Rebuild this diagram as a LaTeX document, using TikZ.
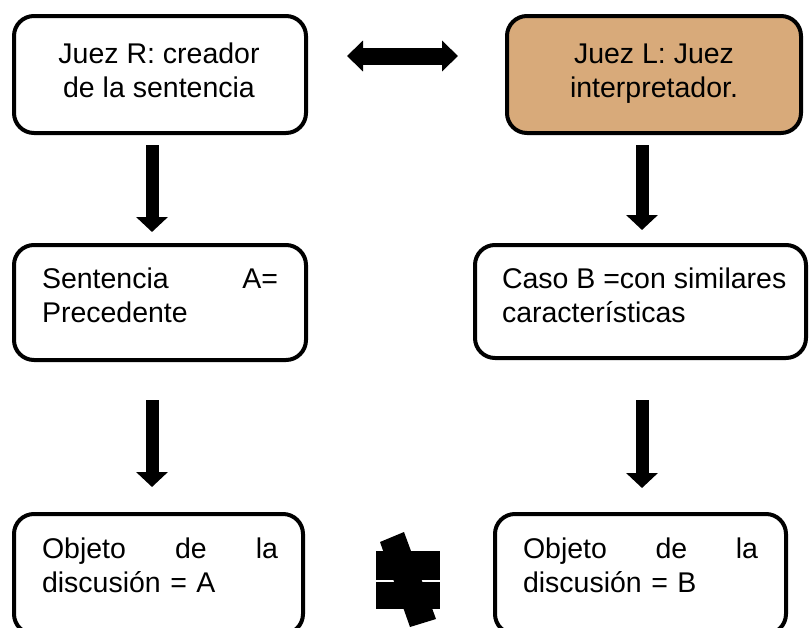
\documentclass[tikz,border=0pt]{standalone}
\usepackage{fontspec}
\setmainfont{Liberation Sans}
\usetikzlibrary{arrows.meta}
\definecolor{tanfill}{RGB}{216,170,122}
\begin{document}
\begin{tikzpicture}[x=1pt,y=-1pt,
  box/.style={draw=black,line width=4pt,rounded corners=20pt,inner sep=0pt,outer sep=0pt},
  txt/.style={inner sep=0pt,outer sep=0pt,font=\fontsize{28.5}{34}\selectfont},
  blk/.style={line width=13pt,-{Triangle[width=31pt,length=15pt]}},
  dbl/.style={line width=17pt,line join=round,{Triangle[width=30pt,length=16pt]}-{Triangle[width=30pt,length=16pt]}}]
\clip (0,0) rectangle (809,627);
\fill[white] (0,0) rectangle (809,627);
% boxes
\node[box,minimum width=292pt,minimum height=117pt] (b1) at (160,74.5) {};
\node[box,fill=tanfill,minimum width=294pt,minimum height=117pt] (b2) at (654,74.5) {};
\node[box,minimum width=292pt,minimum height=115pt] (b3) at (160,302.5) {};
\node[box,minimum width=331pt,minimum height=113pt] (b4) at (640.5,301.5) {};
\node[box,minimum width=289pt,minimum height=120pt] (b5) at (158.5,574) {};
\node[box,minimum width=291pt,minimum height=120pt] (b6) at (640.5,574) {};
% texts
\node[txt,anchor=base,align=center] (t1) at (159,97) {Juez R: creador\\de la sentencia};
\node[txt,anchor=base,align=center] (t2) at (654,97) {Juez L: Juez\\interpretador.};
\node[txt,anchor=base west,text width=236pt,align=left] (t3) at (42,288) {Sentencia\hfill A=\\Precedente};
\node[txt,anchor=base west,align=left] (t4) at (502,322) {Caso B =con similares\\características};
\node[txt,anchor=base west,text width=236pt,align=left] (t5) at (42,558) {Objeto\hfill de\hfill la\\discusión = A};
\node[txt,anchor=base west,text width=235pt,align=left] (t6) at (523,558) {Objeto\hfill de\hfill la\\discusión = B};
% arrows
\coordinate (xl) at (152,0);
\coordinate (xr) at (642,0);
\coordinate (dy) at (0,56);
\draw[blk,shorten <=12pt,shorten >=13pt] (xl |- b1.south) -- (xl |- b3.north);
\draw[blk,shorten <=12pt,shorten >=15pt] (xr |- b2.south) -- (xr |- b4.north);
\draw[blk,shorten <=40pt,shorten >=27pt] (xl |- b3.south) -- (xl |- b5.north);
\draw[blk,shorten <=42pt,shorten >=26pt] (xr |- b4.south) -- (xr |- b6.north);
\draw[dbl,shorten <=41pt,shorten >=49pt] (b1.east |- dy) -- (b2.west |- dy);
% not-equal sign
\fill[black] (376,551) rectangle (440,580);
\fill[black] (376,582) rectangle (440,609);
\fill[black] (380,542) -- (404,532) -- (436,619) -- (410,627) -- cycle;
\end{tikzpicture}
\end{document}
